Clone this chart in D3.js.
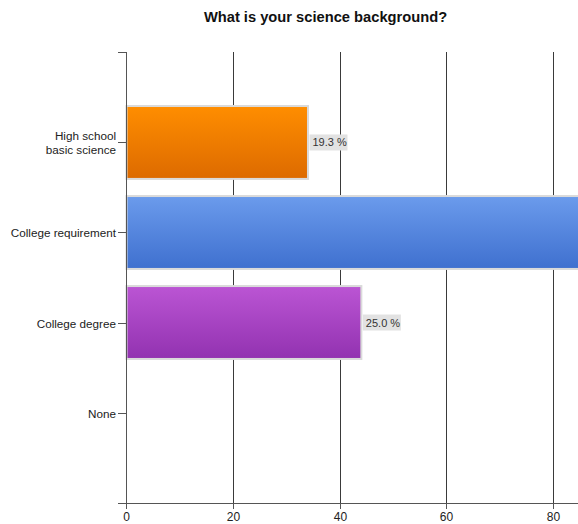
<!DOCTYPE html>
<html>
<head>
<meta charset="utf-8">
<script src="https://cdn.jsdelivr.net/npm/d3@7/dist/d3.min.js"></script>
<style>
  html, body { margin: 0; padding: 0; background: #fff; }
  svg { display: block; font-family: "Liberation Sans", Arial, sans-serif; }
</style>
</head>
<body>
<svg id="chart" width="578" height="524"></svg>
<script>
// Survey answers (respondent counts) per category
const categories = ["High school\nbasic science", "College requirement", "College degree", "None"];
const counts = [34, 98, 44, 0];
const xTicks = [0, 20, 40, 60, 80];
const barTopColors = ["#ff8e00", "#6b9bec", "#bb55d4", "#999999"];
const barBottomColors = ["#dd6a00", "#3f70cf", "#9232b0", "#777777"];
const title = "What is your science background?";

const total = d3.sum(counts);
const percents = counts.map(c => c / total * 100);

const svg = d3.select("#chart");
const W = 578, H = 524;
const plot = { left: 126, top: 52, bottom: 503 };

const x = d3.scaleLinear().domain([0, 100]).range([plot.left, plot.left + 533.75]);
const y = d3.scaleBand().domain(categories).range([plot.top, plot.bottom])
  .paddingInner(0.19).paddingOuter(0.6);

// gradients for bars
const defs = svg.append("defs");
categories.forEach((c, i) => {
  const g = defs.append("linearGradient").attr("id", "grad" + i)
    .attr("x1", 0).attr("y1", 0).attr("x2", 0).attr("y2", 1);
  g.append("stop").attr("offset", "0%").attr("stop-color", barTopColors[i]);
  g.append("stop").attr("offset", "100%").attr("stop-color", barBottomColors[i]);
});
defs.append("clipPath").attr("id", "plotClip")
  .append("rect").attr("x", 0).attr("y", 0).attr("width", W).attr("height", H);

// title
svg.append("text").attr("x", 325.5).attr("y", 22)
  .attr("text-anchor", "middle").attr("font-weight", "bold").attr("font-size", 14.7)
  .attr("fill", "#111").text(title);

// vertical grid lines
svg.append("g").selectAll("line").data(xTicks.filter(t => t > 0)).join("line")
  .attr("x1", d => Math.round(x(d)) + 0.5).attr("x2", d => Math.round(x(d)) + 0.5)
  .attr("y1", plot.top).attr("y2", plot.bottom)
  .attr("stroke", "#3a3a3a").attr("stroke-width", 1);

// bars
const bars = svg.append("g").attr("clip-path", "url(#plotClip)");
bars.selectAll("rect").data(counts).join("rect")
  .attr("x", x(0) + 0.5)
  .attr("y", (d, i) => y(categories[i]))
  .attr("width", d => Math.max(0, x(d) - x(0)))
  .attr("height", y.bandwidth())
  .attr("fill", (d, i) => `url(#grad${i})`)
  .attr("stroke", "#dadada").attr("stroke-width", 2)
  .style("display", d => d > 0 ? null : "none");

// value labels
const labels = svg.append("g").attr("font-size", 11);
counts.forEach((d, i) => {
  if (d <= 0) return;
  const lx = x(d) + 2;
  const cy = y(categories[i]) + y.bandwidth() / 2;
  if (lx > W) return;
  const txt = d3.format(".1f")(percents[i]) + " %";
  labels.append("rect").attr("x", lx).attr("y", cy - 8)
    .attr("width", 38).attr("height", 16).attr("fill", "#e2e2e2");
  labels.append("text").attr("x", lx + 3).attr("y", cy + 4)
    .attr("fill", "#333").text(txt);
});

// y axis
const yAxis = svg.append("g");
yAxis.append("line").attr("x1", plot.left + 0.5).attr("x2", plot.left + 0.5)
  .attr("y1", plot.top).attr("y2", plot.bottom + 5).attr("stroke", "#555");
yAxis.append("line").attr("x1", plot.left - 8).attr("x2", plot.left + 0.5)
  .attr("y1", plot.top + 0.5).attr("y2", plot.top + 0.5).attr("stroke", "#555");
categories.forEach(c => {
  const cy = Math.round(y(c) + y.bandwidth() / 2) + 0.5;
  yAxis.append("line").attr("x1", plot.left - 8).attr("x2", plot.left)
    .attr("y1", cy).attr("y2", cy).attr("stroke", "#555");
  const lines = c.split("\n");
  const t = yAxis.append("text").attr("text-anchor", "end").attr("font-size", 11.7)
    .attr("fill", "#222");
  lines.forEach((ln, k) => {
    t.append("tspan").attr("x", plot.left - 10)
      .attr("y", cy + 4 + (k - (lines.length - 1) / 2) * 14).text(ln);
  });
});

// x axis
const xAxis = svg.append("g");
xAxis.append("line").attr("x1", plot.left - 8).attr("x2", W)
  .attr("y1", plot.bottom + 0.5).attr("y2", plot.bottom + 0.5).attr("stroke", "#555");
xTicks.forEach(t => {
  const tx = Math.round(x(t)) + 0.5;
  xAxis.append("line").attr("x1", tx).attr("x2", tx)
    .attr("y1", plot.bottom).attr("y2", plot.bottom + 6).attr("stroke", "#555");
  xAxis.append("text").attr("x", tx).attr("y", plot.bottom + 18)
    .attr("text-anchor", "middle").attr("font-size", 12).attr("fill", "#222").text(t);
});
</script>
</body>
</html>
